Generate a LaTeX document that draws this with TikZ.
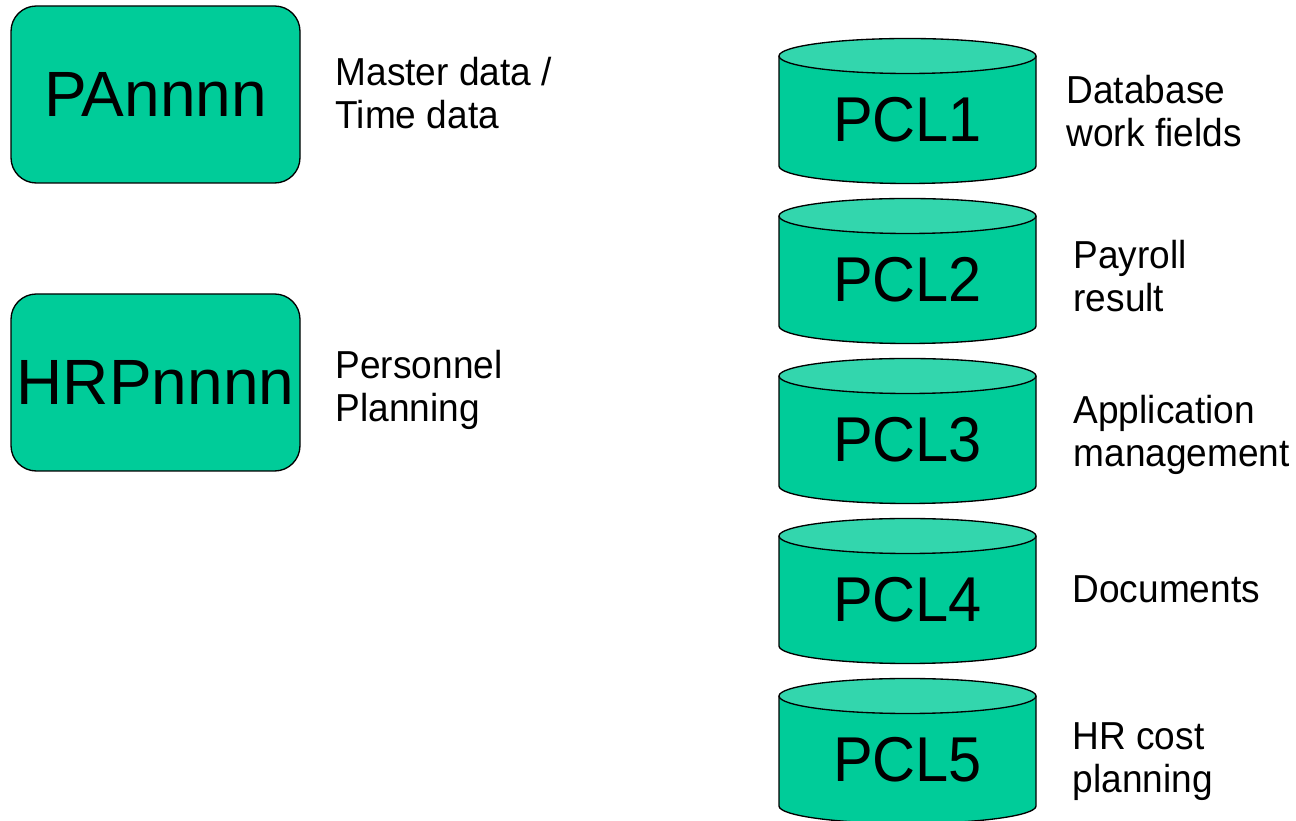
\documentclass[tikz,border=0pt]{standalone}
\usepackage{fontspec}
\setmainfont{Liberation Sans}
\definecolor{sapgreen}{HTML}{00CC99}
\definecolor{saptop}{HTML}{33D6AD}
\begin{document}
\begin{tikzpicture}[x=0.75pt,y=0.75pt,line join=round,line width=1pt,
  box/.style={draw,fill=sapgreen,rounded corners=19pt,minimum width=216.75pt,minimum height=132.75pt,inner sep=0pt,font=\fontsize{48}{50}\selectfont},
  tag/.style={anchor=north west,align=left,inner sep=0pt,xscale=0.95,font=\fontsize{29.25}{32.25}\selectfont},
  big/.style={inner sep=0pt,xscale=0.94,font=\fontsize{47.5}{50}\selectfont}]
\useasboundingbox (0,0) rectangle (1296,821);
% infotypes
\node[box] (pa) at (155.5,726.5) {PAnnnn};
\node[box] (hrp) at (155.5,438.5) {HRPnnnn};
\node[tag] (lpa) at (335,764) {Master data /\\Time data};
\node[tag] (lhrp) at (335,471) {Personnel\\Planning};
% clusters
\foreach \k/\lx/\ly/\txt in {1/1066/746/{Database\\work fields}, 2/1073/581/{Payroll\\result},
  3/1073/426/{Application\\management}, 4/1072/246/{Documents}, 5/1072/99/{HR cost\\planning}}{
  \pgfmathsetmacro{\yt}{765-160*(\k-1)}
  \fill[sapgreen] (779,\yt) -- (779,\yt-110) arc[start angle=180,end angle=360,x radius=128.5,y radius=17.5] -- (1036,\yt) -- cycle;
  \draw (779,\yt) -- (779,\yt-110) arc[start angle=180,end angle=360,x radius=128.5,y radius=17.5] -- (1036,\yt);
  \filldraw[fill=saptop] (907.5,\yt) ellipse [x radius=128.5,y radius=17.5];
  \node[big] (pcl\k) at (907.5,\yt-63.5) {PCL\k};
  \node[tag] (lpcl\k) at (\lx,\ly) {\txt};
}
\end{tikzpicture}
\end{document}
